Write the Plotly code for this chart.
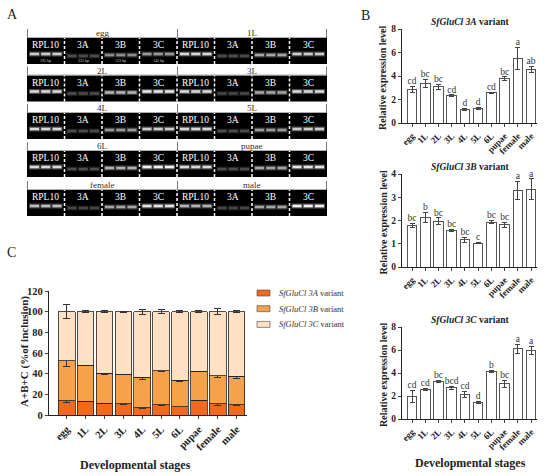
import plotly.graph_objects as go

# ---- data ----
stages = ['egg', '1L', '2L', '3L', '4L', '5L', '6L', 'pupae', 'female', 'male']
genes = ['RPL10', '3A', '3B', '3C']
bp_sizes = ['195 bp', '233 bp', '123 bp', '145 bp']

# gel band brightness (0-1) per stage
band_rpl10 = [0.80, 0.85, 0.85, 0.85, 0.85, 0.85, 0.85, 0.85, 0.75, 0.70]
band_3a = [0.30, 0.30, 0.30, 0.28, 0.30, 0.30, 0.30, 0.30, 0.28, 0.28]
band_3b = [0.55, 0.65, 0.70, 0.65, 0.60, 0.60, 0.70, 0.65, 0.65, 0.65]
band_3c = [0.60, 0.80, 0.90, 0.85, 0.80, 0.80, 0.95, 0.90, 0.90, 0.95]

expr_3a = [2.85, 3.37, 3.09, 2.34, 1.14, 1.23, 2.57, 3.77, 5.51, 4.57]
err_3a = [0.25, 0.35, 0.2, 0.05, 0.1, 0.1, 0.05, 0.15, 0.94, 0.25]
let_3a = ['cd', 'bc', 'bc', 'cd', 'd', 'd', 'cd', 'bc', 'a', 'ab']

expr_3b = [1.78, 2.13, 1.96, 1.56, 1.17, 1.03, 1.93, 1.81, 3.29, 3.34]
err_3b = [0.1, 0.2, 0.15, 0.05, 0.1, 0.03, 0.08, 0.12, 0.4, 0.45]
let_3b = ['bc', 'b', 'bc', 'bc', 'bc', 'c', 'bc', 'bc', 'a', 'a']

expr_3c = [1.96, 2.59, 3.28, 2.70, 2.13, 1.44, 4.11, 3.08, 6.10, 5.93]
err_3c = [0.55, 0.08, 0.08, 0.12, 0.3, 0.05, 0.1, 0.3, 0.4, 0.35]
let_3c = ['cd', 'cd', 'bc', 'bcd', 'cd', 'd', 'b', 'bc', 'a', 'a']

pct_3a = [14.0, 13.5, 11.5, 10.8, 7.1, 9.7, 8.2, 14.5, 10.9, 9.8]
pct_3a_err = [1.8, 0.3, 0.3, 0.5, 0.4, 0.8, 0.3, 0.5, 2.0, 0.5]
pct_3b = [38.4, 34.8, 28.7, 28.5, 29.3, 33.1, 25.5, 28.0, 27.1, 27.5]
pct_3b_err = [5.0, 0.5, 1.3, 0.5, 2.0, 0.8, 1.0, 0.7, 1.5, 1.5]
pct_3c = [47.6, 51.7, 59.8, 60.7, 63.6, 57.2, 66.3, 57.5, 62.0, 62.7]
pct_3c_err = [6.5, 0.8, 1.0, 0.5, 2.5, 2.0, 1.0, 1.0, 3.0, 1.0]

W, H = 550, 476
SERIF = 'Liberation Serif'


def px(x):
    return x / W


def py(y):
    return 1 - y / H


def note(x, y, text, size, color='#222', angle=0, xanchor='center'):
    return dict(x=px(x), y=py(y), xref='paper', yref='paper', text=text, showarrow=False,
                xanchor=xanchor, yanchor='middle', textangle=angle,
                font=dict(family=SERIF, size=size, color=color))


fig = go.Figure()
shapes = []
annots = []

# ---- panel A: gel strips ----
bands = [band_rpl10, band_3a, band_3b, band_3c]
band_dy = [16, 18, 17, 16]
row_top = [38, 75.5, 113, 151, 190]
gx0, gw = 27, 37.5
for r, top in enumerate(row_top):
    shapes.append(dict(type='rect', xref='paper', yref='paper', x0=px(gx0), x1=px(gx0 + 8 * gw),
                       y0=py(top + 26), y1=py(top), fillcolor='black', line=dict(width=0), layer='below'))
    for h in range(2):
        s = r * 2 + h
        hx0 = gx0 + h * 4 * gw
        # bracket above each half
        shapes.append(dict(type='line', xref='paper', yref='paper', x0=px(hx0 + 0.5), x1=px(hx0 + 0.5),
                           y0=py(top - 9), y1=py(top), line=dict(color='#777', width=1)))
        shapes.append(dict(type='line', xref='paper', yref='paper', x0=px(hx0), x1=px(hx0 + 4 * gw),
                           y0=py(top - 0.5), y1=py(top - 0.5), line=dict(color='#999', width=0.8)))
        annots.append(note(hx0 + 2 * gw, top - 5, stages[s], 9, '#333'))
        for g in range(4):
            cx0 = hx0 + g * gw
            annots.append(note(cx0 + gw / 2, top + 7, genes[g], 9.5, 'white'))
            v = bands[g][s]
            for k, off in enumerate([0.2, 0.5, 0.8]):
                bx = cx0 + gw * off
                by = top + band_dy[g]
                glow = int(255 * v * 0.35)
                shapes.append(dict(type='rect', xref='paper', yref='paper', x0=px(bx - 5.5), x1=px(bx + 5.5),
                                   y0=py(by + 2.5), y1=py(by - 2.5), fillcolor=f'rgb({glow},{glow},{glow})',
                                   line=dict(width=0)))
                c = int(255 * v)
                shapes.append(dict(type='rect', xref='paper', yref='paper', x0=px(bx - 4.5), x1=px(bx + 4.5),
                                   y0=py(by + 1.3), y1=py(by - 1.3), fillcolor=f'rgb({c},{c},{c})',
                                   line=dict(width=0)))
            if s == 0:
                annots.append(note(cx0 + gw / 2, top + 22.5, bp_sizes[g], 4, '#ccc'))
            if g > 0 or h == 1:
                shapes.append(dict(type='line', xref='paper', yref='paper', x0=px(cx0), x1=px(cx0),
                                   y0=py(top + 26), y1=py(top), line=dict(color='white', width=1.5, dash='3px,2px')))
    # right end bracket tick
    shapes.append(dict(type='line', xref='paper', yref='paper', x0=px(gx0 + 8 * gw - 0.5), x1=px(gx0 + 8 * gw - 0.5),
                       y0=py(top - 9), y1=py(top), line=dict(color='#777', width=1)))

# ---- panel B: expression bars ----
b_panels = [
    ('x2', 'y2', expr_3a, err_3a, let_3a, 29, 123, 8, 2, '3A'),
    ('x3', 'y3', expr_3b, err_3b, let_3b, 174, 267, 4, 1, '3B'),
    ('x4', 'y4', expr_3c, err_3c, let_3c, 327, 419, 8, 2, '3C'),
]
xs = list(range(len(stages)))
for xa, ya, vals, errs, lets, top, bot, ymax, dt, name in b_panels:
    fig.add_trace(go.Bar(x=xs, y=vals, xaxis=xa, yaxis=ya, width=0.72, showlegend=False,
                         marker=dict(color='white', line=dict(color='#555', width=1)),
                         error_y=dict(type='data', array=errs, color='#444', thickness=1, width=2.5)))
    fig.add_trace(go.Scatter(x=xs, y=[v + e for v, e in zip(vals, errs)], xaxis=xa, yaxis=ya, mode='text',
                             text=lets, textposition='top center', showlegend=False, cliponaxis=False,
                             textfont=dict(family=SERIF, size=9.5, color='#333')))
    n = xa[1:]
    fig.update_layout({
        f'xaxis{n}': dict(domain=[px(402), px(537)], anchor=ya, range=[-0.76, 9.45], tickvals=xs,
                          ticktext=stages, tickangle=-45, showline=True, linecolor='#222', linewidth=1.3,
                          ticks='outside', ticklen=3, tickwidth=1, showgrid=False, zeroline=False,
                          automargin=False,
                          tickfont=dict(family=SERIF, size=9, color='#222', weight='bold')),
        f'yaxis{n}': dict(domain=[py(bot), py(top)], anchor=xa, range=[0, ymax], dtick=dt,
                          showline=True, linecolor='#222', linewidth=1.3, ticks='outside', ticklen=3,
                          tickwidth=1.3, showgrid=False, zeroline=False, automargin=False,
                          tickfont=dict(family=SERIF, size=9.5, color='#222', weight='bold')),
    })
    annots.append(note(470, top - 7, f'<b><i>SfGluCl {name}</i> variant</b>', 9.5))
    annots.append(note(383, (top + bot) / 2 + 2, '<b>Relative expression level</b>', 10, angle=-90))

annots.append(note(470, 463, '<b>Developmental stages</b>', 12))

# ---- panel C: stacked percentages ----
c_series = [
    ('3A', pct_3a, pct_3a_err, '#F26A1F'),
    ('3B', pct_3b, pct_3b_err, '#F5A24A'),
    ('3C', pct_3c, pct_3c_err, '#FDE1C2'),
]
for i, (name, vals, errs, col) in enumerate(c_series):
    fig.add_trace(go.Bar(x=xs, y=vals, xaxis='x', yaxis='y', width=0.88, showlegend=False,
                         name=f'SfGluCl {name} variant',
                         marker=dict(color=col, line=dict(color='#222', width=0.8)),
                         error_y=dict(type='data', array=errs, color='#333', thickness=1, width=3.5)))
    # legend entry
    ly = 293 + i * 15.7
    shapes.append(dict(type='rect', xref='paper', yref='paper', x0=px(257), x1=px(270),
                       y0=py(ly + 3), y1=py(ly - 3), fillcolor=col, line=dict(color='#444', width=0.6)))
    annots.append(note(277, ly, f'<i>SfGluCl {name}</i> variant', 8.5, '#333', xanchor='left'))

fig.update_layout(
    barmode='stack',
    xaxis=dict(domain=[px(49), px(247)], anchor='y', range=[-0.94, 9.55], tickvals=xs, ticktext=stages,
               tickangle=-45, showline=True, linecolor='#222', linewidth=1.3, ticks='outside', ticklen=3,
               tickwidth=1, showgrid=False, zeroline=False, automargin=False,
               tickfont=dict(family=SERIF, size=10.5, color='#222', weight='bold')),
    yaxis=dict(domain=[py(415), py(291)], anchor='x', range=[0, 120], dtick=20, showline=True,
               linecolor='#222', linewidth=1.3, ticks='outside', ticklen=3, tickwidth=1.3,
               showgrid=False, zeroline=False, automargin=False,
               tickfont=dict(family=SERIF, size=10.5, color='#222', weight='bold')),
)
annots.append(note(24, 352, '<b>A+B+C (%of inclusion)</b>', 11, angle=-90))
annots.append(note(135, 465, '<b>Developmental stages</b>', 12))

# panel letters
for lab, x, y in [('A', 12, 14), ('B', 365, 16), ('C', 11, 252)]:
    annots.append(note(x, y, lab, 14))

fig.update_layout(
    width=W, height=H, margin=dict(l=0, r=0, t=0, b=0),
    paper_bgcolor='white', plot_bgcolor='white', showlegend=False,
    shapes=shapes, annotations=annots,
)

fig.write_html("out.html", config={'displayModeBar': False},
               post_script="document.body.style.margin='0';")
